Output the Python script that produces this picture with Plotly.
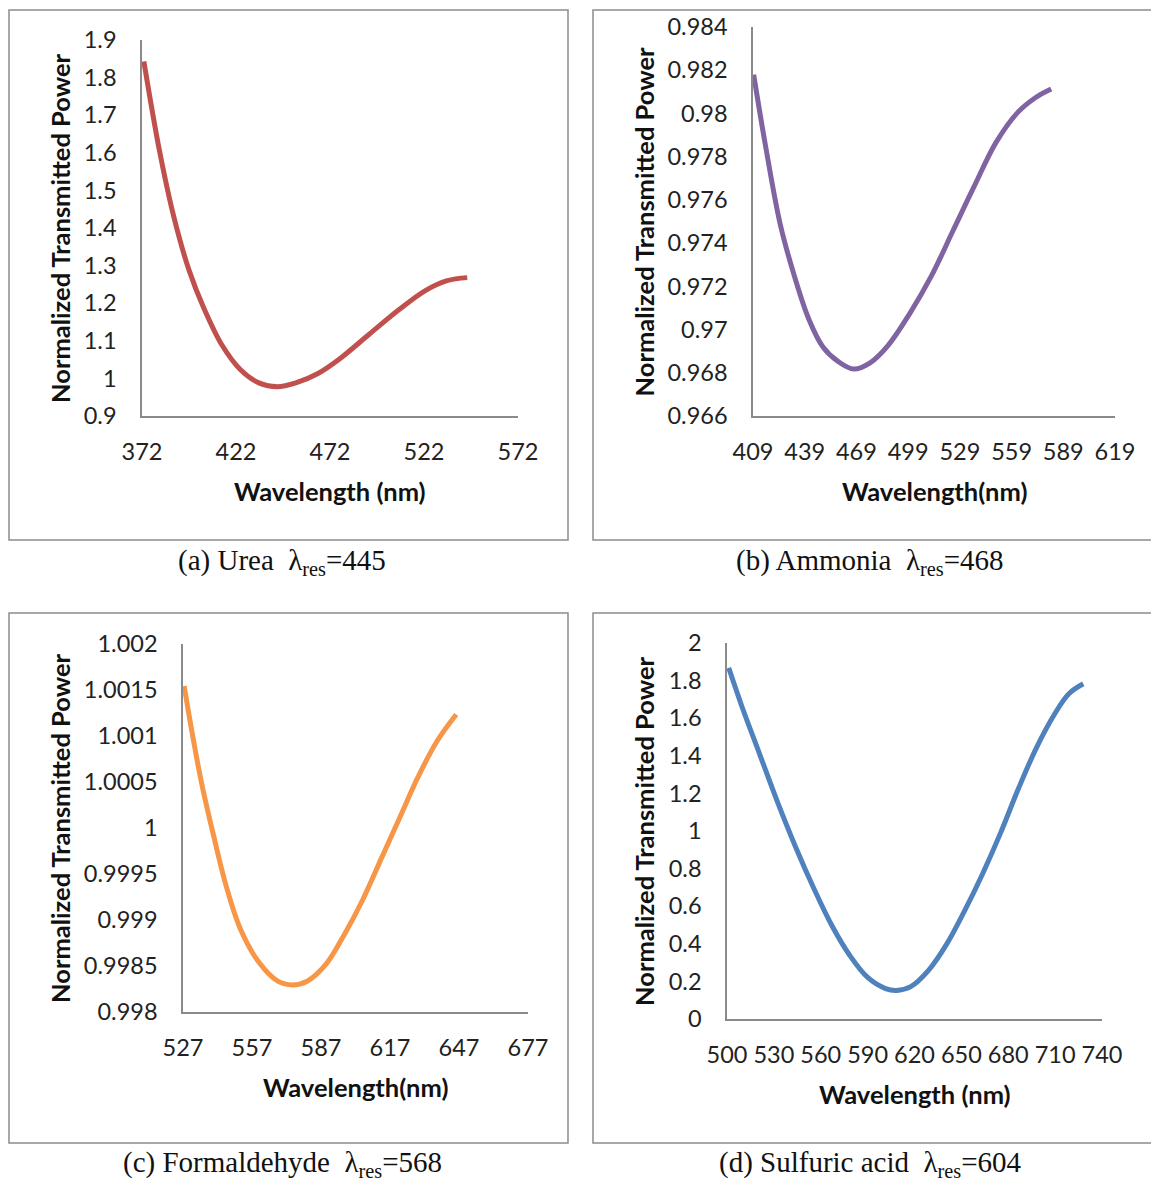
import plotly.graph_objects as go

# ---------------- data ----------------
urea_wl = [373, 381.2, 389, 397, 404.8, 414.6, 424.4, 434.2, 444, 453.8, 465.6, 477.4, 493, 508.8, 522.5, 534.3, 545]
urea_p = [1.843, 1.608, 1.428, 1.288, 1.188, 1.088, 1.023, 0.988, 0.978, 0.988, 1.013, 1.053, 1.118, 1.183, 1.233, 1.26, 1.268]

ammonia_wl = [409.4, 416.3, 424.7, 433, 441.4, 449.7, 458.1, 467.5, 476.9, 487.4, 500, 512.5, 525, 537.5, 550, 562.6, 573, 582]
ammonia_p = [0.98179, 0.97849, 0.97491, 0.97248, 0.97048, 0.96918, 0.96854, 0.96817, 0.96846, 0.96927,
             0.97075, 0.97248, 0.97457, 0.97666, 0.97866, 0.98005, 0.98074, 0.98113]

formal_wl = [527.5, 531.2, 535.2, 540, 545.6, 552, 560.1, 568.2, 574.6, 581, 589.1, 597.1, 605.2, 613.2, 621.2, 629.2, 637.3, 645.8]
formal_p = [1.001544, 1.001001, 1.000474, 0.999949, 0.999384, 0.9989, 0.998537, 0.998335, 0.998294, 0.998335,
            0.998517, 0.99884, 0.999223, 0.999667, 1.000111, 1.000555, 1.000938, 1.001233]

sulf_wl = [501.1, 509.6, 521.1, 532.6, 544.1, 555.6, 567.1, 578.5, 590, 601.5, 608.4, 617.6, 629.1, 640.6,
           652.1, 663.6, 675.1, 686.6, 698.1, 709.6, 718.8, 728]
sulf_p = [1.868, 1.661, 1.404, 1.148, 0.911, 0.694, 0.497, 0.339, 0.221, 0.162, 0.152, 0.172, 0.26, 0.398,
          0.576, 0.773, 0.99, 1.227, 1.444, 1.621, 1.73, 1.783]

a_xticks = [372, 422, 472, 522, 572]
a_yticks = [0.9, 1, 1.1, 1.2, 1.3, 1.4, 1.5, 1.6, 1.7, 1.8, 1.9]
b_xticks = [409, 439, 469, 499, 529, 559, 589, 619]
b_yticks = [0.966, 0.968, 0.97, 0.972, 0.974, 0.976, 0.978, 0.98, 0.982, 0.984]
c_xticks = [527, 557, 587, 617, 647, 677]
c_yticks = [0.998, 0.9985, 0.999, 0.9995, 1, 1.0005, 1.001, 1.0015, 1.002]
d_xticks = [500, 530, 560, 590, 620, 650, 680, 710, 740]
d_yticks = [0, 0.2, 0.4, 0.6, 0.8, 1, 1.2, 1.4, 1.6, 1.8, 2]

captions = ["(a) Urea  λ<sub>res</sub>=445", "(b) Ammonia  λ<sub>res</sub>=468",
            "(c) Formaldehyde  λ<sub>res</sub>=568", "(d) Sulfuric acid  λ<sub>res</sub>=604"]
xtitles = ["Wavelength (nm)", "Wavelength(nm)", "Wavelength(nm)", "Wavelength (nm)"]
ytitle = "Normalized Transmitted Power"
colors = ["#C0504D", "#8064A2", "#F79646", "#4F81BD"]

# ---------------- layout geometry (pixels of the target image) ----------------
W, H = 1151, 1181
def px(x): return x / W
def py(y): return 1 - y / H

# plot areas: (left, right, top, bottom) in pixels
areas = [(142, 518, 40, 416), (753, 1115, 27, 416), (183, 528, 644, 1012), (727, 1102, 643, 1019)]
boxes = [(9, 568, 10, 540), (593, 1160, 10, 540), (9, 568, 613, 1143), (593, 1160, 613, 1143)]
cap_pos = [(282, 562), (870, 562), (282, 1164), (870, 1164)]
xtitle_y = [491, 491, 1087, 1094]
ytitle_x = [60, 644, 60, 644]

series = [(urea_wl, urea_p, a_xticks, a_yticks),
          (ammonia_wl, ammonia_p, b_xticks, b_yticks),
          (formal_wl, formal_p, c_xticks, c_yticks),
          (sulf_wl, sulf_p, d_xticks, d_yticks)]

FONT = "Lato"
AXC = "#8a8a8a"

fig = go.Figure()
shapes, annotations = [], []
for i, ((xs, ys, xt, yt), (l, r, t, b)) in enumerate(zip(series, areas)):
    n = "" if i == 0 else str(i + 1)
    fig.add_trace(go.Scatter(x=xs, y=ys, mode="lines", line=dict(color=colors[i], width=5, shape="spline"),
                             xaxis="x" + n, yaxis="y" + n, showlegend=False, hoverinfo="x+y"))
    fig.layout["xaxis" + n] = dict(domain=[px(l), px(r)], anchor="y" + n, range=[xt[0], xt[-1]],
                                   tickvals=xt, showgrid=False, zeroline=False, showline=True, linecolor=AXC,
                                   linewidth=1.5, ticks="", ticklabelstandoff=14, automargin=False,
                                   tickfont=dict(family=FONT, size=23.5, color="#222"))
    fig.layout["yaxis" + n] = dict(domain=[py(b), py(t)], anchor="x" + n, range=[yt[0], yt[-1]],
                                   tickvals=yt, showgrid=False, zeroline=False, showline=True, linecolor=AXC,
                                   linewidth=1.5, ticks="", ticklabelstandoff=19, automargin=False,
                                   tickfont=dict(family=FONT, size=23.5, color="#222"))
    bl, br, bt, bb = boxes[i]
    shapes.append(dict(type="rect", xref="paper", yref="paper", x0=px(bl), x1=px(br), y0=py(bb), y1=py(bt),
                       line=dict(color="#8c8c8c", width=1.5), fillcolor="rgba(0,0,0,0)"))
    annotations.append(dict(text="<b>" + xtitles[i] + "</b>", xref="paper", yref="paper",
                            x=px((l + r) / 2), y=py(xtitle_y[i]), showarrow=False,
                            font=dict(family=FONT, size=25.5, color="#111"), xanchor="center", yanchor="middle"))
    annotations.append(dict(text="<b>" + ytitle + "</b>", xref="paper", yref="paper", textangle=-90,
                            x=px(ytitle_x[i]), y=py((t + b) / 2), showarrow=False,
                            font=dict(family=FONT, size=25.5, color="#111"), xanchor="center", yanchor="middle"))
    cx, cy = cap_pos[i]
    annotations.append(dict(text=captions[i], xref="paper", yref="paper", x=px(cx), y=py(cy), showarrow=False,
                            font=dict(family="Liberation Serif", size=29, color="#111"), borderpad=0,
                            xanchor="center", yanchor="middle"))

fig.update_layout(width=W, height=H, autosize=False, margin=dict(l=0, r=0, t=0, b=0, pad=0),
                  paper_bgcolor="white", plot_bgcolor="white", shapes=shapes, annotations=annotations)
fig.write_html("out.html", config={"displayModeBar": False},
               post_script="document.body.style.margin='0';document.body.style.overflow='hidden';")
